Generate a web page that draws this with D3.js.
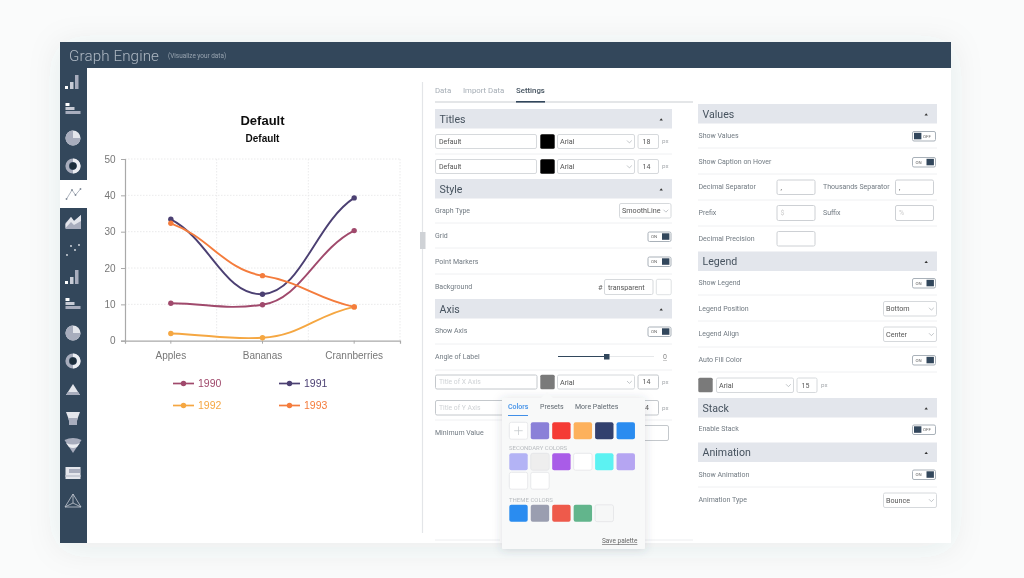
<!DOCTYPE html>
<html><head><meta charset="utf-8">
<script src="https://cdn.jsdelivr.net/npm/d3@7"></script>
<style>html,body{margin:0;padding:0;background:#fafbfb;overflow:hidden}svg{display:block}</style>
</head><body><svg id="c" width="1024" height="578"></svg>
<script>
// Chart data
const categories = ["Apples","Bananas","Crannberries"];
const seriesNames = ["1990","1991","1992","1993"];
const series1990 = [10.3,9.9,30.3];
const series1991 = [33.4,12.8,39.3];
const series1992 = [2,0.8,9.3];
const series1993 = [32.3,17.9,9.3];
const seriesColors = ["#a04a6c","#4b3f72","#f5a742","#f47c3c"];
const yTicks = [0,10,20,30,40,50];
const titleText = "Default", subtitleText = "Default";
const appTitle = "Graph Engine", appSubtitle = "(Visualize your data)";
const tabs = ["Data","Import Data","Settings"];
const primarySwatches = ["#8a80d8","#f53b35","#fdb15c","#33406e","#2a8cf0"];
const secondarySwatches = ["#b3b3f5","#eeeeee","#a95be8","#ffffff","#5cf2f2","#b5a5f2","#ffffff","#ffffff"];
const themeSwatches = ["#2a8cf0","#9a9eb0","#ee5a4c","#62b58c","#f6f7f7"];

// Smooth curve: long horizontal handles, damped tangents
function smoothCurve(context){
  let pts=[];
  return {
    areaStart(){},areaEnd(){},
    lineStart(){pts=[];},
    point(x,y){pts.push([+x,+y]);},
    lineEnd(){
      const n=pts.length,m=[];
      for(let i=0;i<n;i++){
        if(i==0) m[i]=0.62*(pts[1][1]-pts[0][1])/(pts[1][0]-pts[0][0]);
        else if(i==n-1) m[i]=0.62*(pts[i][1]-pts[i-1][1])/(pts[i][0]-pts[i-1][0]);
        else m[i]=0.35*(pts[i+1][1]-pts[i-1][1])/(pts[i+1][0]-pts[i-1][0]);
      }
      context.moveTo(pts[0][0],pts[0][1]);
      for(let i=0;i<n-1;i++){
        const d=0.42*(pts[i+1][0]-pts[i][0]);
        context.bezierCurveTo(pts[i][0]+d,pts[i][1]+m[i]*d,pts[i+1][0]-d,pts[i+1][1]-m[i+1]*d,pts[i+1][0],pts[i+1][1]);
      }
    }
  };
}

const svg = d3.select("#c");
const defs = svg.append("defs");
const f = defs.append("filter").attr("id","sh").attr("x","-10%").attr("y","-10%").attr("width","120%").attr("height","125%");
f.append("feDropShadow").attr("dx",0).attr("dy",4).attr("stdDeviation",16).attr("flood-color","#3a4a5a").attr("flood-opacity",0.09);
const f2 = defs.append("filter").attr("id","sh2").attr("x","-20%").attr("y","-20%").attr("width","140%").attr("height","140%");
f2.append("feDropShadow").attr("dx",0).attr("dy",1).attr("stdDeviation",5).attr("flood-color","#3a4a5a").attr("flood-opacity",0.18);
const soft = defs.append("filter").attr("id","soft");
soft.append("feGaussianBlur").attr("stdDeviation",0.35);

const NAVY="#33475b", UI='Roboto,"Noto Sans",sans-serif', ARIAL='"Liberation Sans",Arial,sans-serif';
const LBL="#717a82";

// App shell
svg.append("rect").attr("x",60).attr("y",42).attr("width",891).attr("height",501).attr("fill","#fff").attr("filter","url(#sh)");
svg.append("rect").attr("x",60).attr("y",42).attr("width",891).attr("height",26).attr("fill",NAVY);
svg.append("rect").attr("x",60).attr("y",68).attr("width",27).attr("height",475).attr("fill",NAVY);
const ui = svg.append("g").attr("filter","url(#soft)");
function T(x,y,s,o={}){return ui.append("text").attr("x",x).attr("y",y).attr("dy","0.35em").attr("font-family",o.font||UI)
  .attr("font-size",o.size||7).attr("font-weight",o.w||400).attr("fill",o.fill||LBL).attr("text-anchor",o.a||"start")
  .attr("letter-spacing",o.ls||0).text(s);}
function R(x,y,w,h,fill,o={}){return ui.append("rect").attr("x",x).attr("y",y).attr("width",w).attr("height",h).attr("rx",o.r||0)
  .attr("fill",fill).attr("stroke",o.s||"none").attr("stroke-width",o.sw||1);}
function L(x1,y1,x2,y2,c,w){return ui.append("line").attr("x1",x1).attr("y1",y1).attr("x2",x2).attr("y2",y2).attr("stroke",c).attr("stroke-width",w||1);}
T(69,55.5,appTitle,{size:15.2,w:300,fill:"#aeb8c3",ls:0.1});
T(168,56,appSubtitle,{size:6.4,fill:"#98a4b0"});

// Sidebar icons
R(60,180,27,28,"#fff");
const IC2="#a8adbd";
function bars(y){[[-8,3,3],[-3,7,3.5],[2,14,3.5]].forEach(([dx,h,w],i)=>R(73+dx,y+7-h,w,h,i==2?IC2:(i==1?"#c8ccd6":"#fff")));}
function hbars(y){[[-7,4],[-3,9],[1,15]].forEach(([dy,w],i)=>R(65.5,y+dy,w,3,i==2?IC2:(i==1?"#c8ccd6":"#fff")));}
function pie(y){ui.append("circle").attr("cx",73).attr("cy",y).attr("r",7.5).attr("fill","#e4e6ec");
  ui.append("path").attr("d",`M73 ${y}H80.5A7.5 7.5 0 1 1 73 ${y-7.5}Z`).attr("fill",IC2);}
function donut(y){ui.append("circle").attr("cx",73).attr("cy",y).attr("r",5.8).attr("fill","none").attr("stroke",IC2).attr("stroke-width",3.6);
  ui.append("path").attr("d",`M73 ${y-5.8}A5.8 5.8 0 0 1 73 ${y+5.8}`).attr("fill","none").attr("stroke","#eceef2").attr("stroke-width",3.6);
  ui.append("circle").attr("cx",73).attr("cy",y).attr("r",3.2).attr("fill","#1f2d3a");}
bars(82);hbars(110);pie(138);donut(166);
ui.append("path").attr("d","M66.5 199L72 190L75.5 195L80.5 189").attr("fill","none").attr("stroke","#9aa2ae").attr("stroke-width",.8);
[[66.5,199],[72,190],[75.5,195],[80.5,189]].forEach(p=>ui.append("circle").attr("cx",p[0]).attr("cy",p[1]).attr("r",.9).attr("fill","#7f8996"));
ui.append("path").attr("d","M65.5 229V223L71 217L74 221L81 215V229Z").attr("fill",IC2);
ui.append("path").attr("d","M65.5 224L71 217L74 221L81 215V221L74 225L71 222L65.5 228Z").attr("fill","#e4e6ec");
[[67,255],[71,246],[75,250],[79,245]].forEach(p=>ui.append("circle").attr("cx",p[0]).attr("cy",p[1]).attr("r",.9).attr("fill","#dfe3e8"));
bars(277);hbars(305);pie(333);donut(361);
ui.append("path").attr("d","M73 384L80 395H66Z").attr("fill","#e4e6ec");
ui.append("path").attr("d","M68 392H78L80 395H66Z").attr("fill",IC2);
ui.append("path").attr("d","M66 412H80L77 420V425H69V420Z").attr("fill","#e4e6ec");
ui.append("path").attr("d","M68 418H78L77 421V425H69V421Z").attr("fill",IC2);
ui.append("path").attr("d","M64.5 440Q73 436 81.5 440L73 453Z").attr("fill",IC2);
ui.append("path").attr("d","M66 443Q73 446 80 443L77 447Q73 449 69 447Z").attr("fill","#eceef2");
R(65.5,467,15,12,"#e4e6ec");R(69,469,11,4,IC2);R(65.5,475,15,2,"#c8ccd6");
ui.append("path").attr("d","M73 494L81 507H65ZM73 494V503L65 507M73 503L81 507").attr("fill","none").attr("stroke","#c4c9d2").attr("stroke-width",.8);

// Chart
const plot = svg.append("g").attr("filter","url(#soft)");
const x = d3.scaleBand().domain(categories).range([125,400]);
const y = d3.scaleLinear().domain([0,50]).range([340.7,159]);
const cx = d => x(d)+x.bandwidth()/2;
const grid = plot.append("g").attr("stroke","#e4e4e6").attr("stroke-width",.8).attr("stroke-dasharray","1.5 1.5");
yTicks.slice(1).forEach(t=>grid.append("line").attr("x1",125).attr("x2",400).attr("y1",y(t)).attr("y2",y(t)));
categories.forEach(c=>grid.append("line").attr("x1",x(c)+x.bandwidth()).attr("x2",x(c)+x.bandwidth()).attr("y1",159).attr("y2",340.7));
const gy = plot.append("g").attr("transform","translate(125,0)").call(d3.axisLeft(y).tickValues(yTicks).tickSize(4).tickPadding(5.5));
const gx = plot.append("g").attr("transform","translate(0,340.7)").call(d3.axisBottom(x).tickSize(3).tickPadding(8));
[gy,gx].forEach(g=>{g.selectAll("path,line").attr("stroke","#a9a9a9");g.select("path").attr("stroke-width",1.2);
  g.selectAll("text").attr("font-family",ARIAL).attr("font-size",10).attr("fill","#777");});
const line = d3.line().x((d,i)=>cx(categories[i])).y(d=>y(d)).curve(smoothCurve);
const allSeries=[series1990,series1991,series1992,series1993];
allSeries.forEach((s,k)=>{
  plot.append("path").attr("d",line(s)).attr("fill","none").attr("stroke",seriesColors[k]).attr("stroke-width",1.9);
  s.forEach((v,i)=>plot.append("circle").attr("cx",cx(categories[i])).attr("cy",y(v)).attr("r",2.7).attr("fill",seriesColors[k]));
});
plot.append("text").attr("x",262.5).attr("y",125).attr("text-anchor","middle").attr("font-family",ARIAL).attr("font-weight",700).attr("font-size",13).attr("fill","#111").text(titleText);
plot.append("text").attr("x",262.5).attr("y",141.5).attr("text-anchor","middle").attr("font-family",ARIAL).attr("font-weight",700).attr("font-size",10).attr("fill","#111").text(subtitleText);
seriesNames.forEach((n,k)=>{
  const lx=173+(k%2)*106, ly=383.5+Math.floor(k/2)*22;
  plot.append("line").attr("x1",lx).attr("x2",lx+21).attr("y1",ly).attr("y2",ly).attr("stroke",seriesColors[k]).attr("stroke-width",1.7);
  plot.append("circle").attr("cx",lx+10.5).attr("cy",ly).attr("r",2.7).attr("fill",seriesColors[k]);
  plot.append("text").attr("x",lx+25).attr("y",ly).attr("dy","0.35em").attr("font-family",ARIAL).attr("font-size",10.5).attr("fill",seriesColors[k]).text(n);
});

// Divider + tabs
L(422.5,82,422.5,533,"#e3e5e8",1.2);R(420,232,5.5,17,"#cfd2d6");
const tabX=[435,463,516];
tabs.forEach((t,i)=>T(tabX[i],90,t,{size:7.8,w:i==2?500:400,fill:i==2?"#44525f":"#a5adb5"}));
L(435,102,693,102,"#c9cdd1",1);L(516,101.8,545,101.8,"#33475b",1.6);

function section(x0,x1,y0,t){R(x0,y0,x1-x0,19.5,"#e3e6ec");T(x0+4.5,y0+10,t,{size:10.6,fill:"#46525e"});
  ui.append("path").attr("d",`M${x1-12.5} ${y0+11.5}h3.4l-1.7-2.2z`).attr("fill","#333");}
function sep(x0,x1,yy){L(x0,yy,x1,yy,"#eff0f2",1);}
function input(x0,x1,y0,y1,t,o={}){R(x0+.5,y0+.5,x1-x0-1,y1-y0-1,"#fff",{r:1.5,s:o.s||"#d6d9dc"});
  if(t)T(x0+(o.pad||4),(y0+y1)/2,t,{size:o.size||7,fill:o.fill||"#555"});}
function select(x0,x1,y0,y1,t){input(x0,x1,y0,y1,t,{size:7.2,pad:3});
  ui.append("path").attr("d",`M${x1-8} ${(y0+y1)/2-1}l2.4 2.4l2.4-2.4`).attr("fill","none").attr("stroke","#a8adb2").attr("stroke-width",.7);}
function toggle(x1,yc,on){R(x1-23,yc-4.5,23,9.5,"#fff",{r:1.5,s:"#a9b1b9"});
  if(on){R(x1-9,yc-3.2,7.4,6.5,NAVY);T(x1-20,yc+.2,"ON",{size:4.4,fill:"#666"});}
  else{R(x1-21.5,yc-3.2,7.4,6.5,NAVY);T(x1-12.5,yc+.2,"OFF",{size:4.4,fill:"#666"});}}
function swatch(x0,y0,w,h,c,o={}){R(x0+.3,y0+.3,w-.6,h-.6,c,{r:o.r||1.5,s:o.s||"none",sw:.8});}

// Left settings
section(435,672,109,"Titles");
input(435,537,134,149,"Default");swatch(540,134,15,15,"#000");select(557,635,134,149,"Arial");input(637.5,659,134,149,"18",{pad:5});T(662,141,"px",{size:6.2,fill:"#a5a9ad"});
sep(435,672,154);
input(435,537,159,174,"Default");swatch(540,159,15,15,"#000");select(557,635,159,174,"Arial");input(637.5,659,159,174,"14",{pad:5});T(662,166,"px",{size:6.2,fill:"#a5a9ad"});
section(435,672,179,"Style");
T(435,211,"Graph Type");select(619,671.5,203,218.5,"SmoothLine");sep(435,672,223);
T(435,236,"Grid");toggle(671,236.5,true);sep(435,672,248);
T(435,261.5,"Point Markers");toggle(671,261.5,true);sep(435,672,274);
T(435,287,"Background");T(598,287,"#",{size:7.4,fill:"#666"});input(604,653.5,279,295,"transparent",{size:7.2,pad:4});swatch(656,279,15.5,16,"#fff",{s:"#d6d9dc"});
section(435,672,299,"Axis");
T(435,331,"Show Axis");toggle(671,331.5,true);sep(435,672,344);
T(435,356.5,"Angle of Label");L(558,356.5,654,356.5,"#dfe2e5",.8);L(558,356.5,606,356.5,NAVY,1.1);R(604,354,5.5,5.5,NAVY);
T(665,356.5,"0",{size:7,a:"middle",fill:"#888"});L(663,360.5,667,360.5,"#aaa",.6);sep(435,672,370);
input(435,537.5,374.5,389.5,"Title of X Axis",{s:"#c4c8cc",size:6.8,fill:"#cfd2d5"});swatch(540,374.5,15,15,"#7a7a7a");select(557,635,374.5,389.5,"Arial");input(637.5,659,374.5,389.5,"14",{pad:5,s:"#c4c8cc"});T(662,382,"px",{size:6.2,fill:"#a5a9ad"});
input(435,520,400,415.5,"Title of Y Axis",{s:"#c4c8cc",size:6.8,fill:"#cfd2d5"});input(637.5,659,400,415.5,"",{s:"#c4c8cc"});T(645,408,"4",{size:7,fill:"#555"});T(662,407.5,"px",{size:6.2,fill:"#a5a9ad"});
sep(435,672,420);T(435,433,"Minimum Value");input(630,669,425,441,"",{s:"#c4c8cc"});
L(435,540,500,540,"#e8eaec",.8);L(645,540,693,540,"#e8eaec",.8);

// Right settings
section(698,937,104,"Values");
T(698.5,136,"Show Values");toggle(935.5,136,false);sep(698,937,148);
T(698.5,161.5,"Show Caption on Hover");toggle(935.5,162,true);sep(698,937,174);
T(698.5,187,"Decimal Separator");input(776.5,815.5,179.5,195,",",{s:"#cdd0d4"});T(823,187,"Thousands Separator");input(895,934,179.5,195,",",{s:"#cdd0d4"});sep(698,937,200);
T(698.5,213,"Prefix");input(776.5,815.5,205,221,"$",{s:"#cdd0d4",fill:"#ccc"});T(823,213,"Suffix");input(895,934,205,221,"%",{s:"#cdd0d4",fill:"#ccc"});sep(698,937,226);
T(698.5,238.5,"Decimal Precision");input(776.5,815.5,231,246.5,"",{s:"#cdd0d4"});
section(698,937,251.5,"Legend");
T(698.5,283,"Show Legend");toggle(935.5,283,true);sep(698,937,295);
T(698.5,308.5,"Legend Position");select(883,937,301,316.5,"Bottom");sep(698,937,321);
T(698.5,334,"Legend Align");select(883,937,326.5,342,"Center");sep(698,937,347);
T(698.5,359.5,"Auto Fill Color");toggle(935.5,360,true);sep(698,937,372);
swatch(698,377.5,15,15,"#7a7a7a");select(716,794,377.5,393,"Arial");input(796.5,817.5,377.5,393,"15",{pad:5});T(821,384.5,"px",{size:6.2,fill:"#a5a9ad"});
section(698,937,398,"Stack");
T(698.5,429,"Enable Stack");toggle(935.5,429.5,false);
section(698,937,442.5,"Animation");
T(698.5,474.5,"Show Animation");toggle(935.5,474.5,true);sep(698,937,487);
T(698.5,500,"Animation Type");select(883,937,492.5,508,"Bounce");

// Colour popover
svg.append("rect").attr("x",502).attr("y",398).attr("width",143).attr("height",151).attr("rx",1).attr("fill","#f8f9f9").attr("filter","url(#sh2)");
svg.append("path").attr("d","M541 398l6-6l6 6z").attr("fill","#f8f9f9");
const pop=svg.append("g").attr("filter","url(#soft)");
function PT(x,y,s,o={}){return pop.append("text").attr("x",x).attr("y",y).attr("dy","0.35em").attr("font-family",'Roboto,sans-serif').attr("font-size",o.size||7).attr("fill",o.fill||"#5f6870").attr("font-weight",o.w||400).attr("letter-spacing",o.ls||0).text(s);}
PT(508,407,"Colors",{fill:"#3f8fe8",w:500});PT(540,407,"Presets");PT(575,407,"More Palettes");
pop.append("rect").attr("x",508).attr("y",415).attr("width",20).attr("height",1).attr("fill","#3f8fe8");
const swX=k=>509+(k%6)*21.45, swW=19;
function sw(k,yy,c,h){pop.append("rect").attr("x",swX(k)+.3).attr("y",yy+.3).attr("width",swW-.6).attr("height",h-.6).attr("rx",2).attr("fill",c).attr("stroke",(c=="#ffffff"||c=="#eeeeee"||c=="#f6f7f7")?"#e3e5e7":"none").attr("stroke-width",.8);}
sw(0,422,"#ffffff",17.5);
pop.append("path").attr("d","M518.5 426.5v8.5M514.2 430.7h8.5").attr("stroke","#c0c4c8").attr("stroke-width",.7);
primarySwatches.forEach((c,i)=>sw(i+1,422,c,17.5));
PT(509,448,"SECONDARY COLORS",{size:6,fill:"#b8bcc0"});
secondarySwatches.forEach((c,i)=>sw(i,i<6?453:472,c,17.5));
PT(509,499.5,"THEME COLORS",{size:6,fill:"#b8bcc0"});
themeSwatches.forEach((c,i)=>sw(i,504.5,c,17.5));
PT(602,541,"Save palette",{size:6.5,fill:"#666"}).attr("text-decoration","underline");
</script></body></html>
